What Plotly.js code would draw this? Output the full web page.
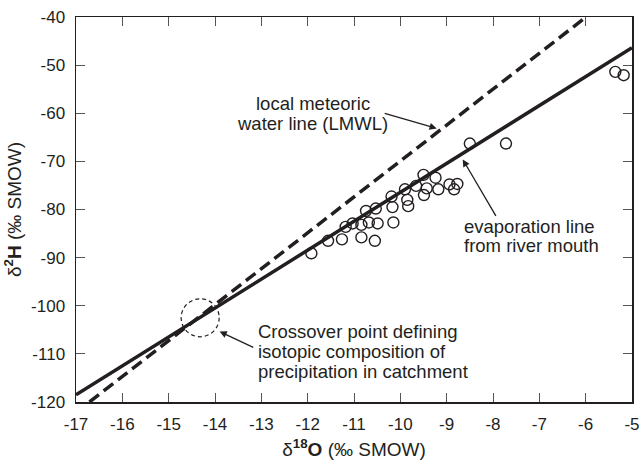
<!DOCTYPE html>
<html>
<head>
<meta charset="utf-8">
<script src="https://cdn.plot.ly/plotly-3.0.1.min.js"></script>
<style>html,body{margin:0;padding:0;background:#fff}#chart{width:640px;height:462px}</style>
</head>
<body>
<div id="chart"></div>
<script>
// Sample isotopic data (per mil SMOW)
const d18O = [-11.92,-11.56,-11.26,-11.18,-11.03,-10.84,-10.84,-10.68,-10.55,-10.49,-10.74,-10.53,-10.19,-10.17,-10.15,-9.90,-9.85,-9.83,-9.66,-9.50,-9.49,-9.43,-9.24,-9.18,-8.94,-8.77,-8.84,-8.50,-7.72,-5.36,-5.18];
const d2H  = [-89.1,-86.5,-86.2,-83.6,-82.9,-83.2,-85.8,-82.7,-86.5,-82.9,-80.3,-79.8,-77.3,-79.5,-82.7,-75.8,-78.0,-79.3,-75.1,-72.8,-77.0,-75.6,-73.4,-75.8,-74.8,-74.7,-75.8,-66.3,-66.3,-51.4,-52.1];

// Local meteoric water line (dashed) endpoints
const lmwlX = [-16.71, -5.99];
const lmwlY = [-120, -40];
// Evaporation line (solid) endpoints
const evapX = [-17, -5];
const evapY = [-118.5, -46.4];

// Crossover point
const crossX = -14.32, crossY = -102.5;

const xTicks = [-17,-16,-15,-14,-13,-12,-11,-10,-9,-8,-7,-6,-5];
const yTicks = [-120,-110,-100,-90,-80,-70,-60,-50,-40];

const lmwlLabel = ["local meteoric", "water line (LMWL)"];
const evapLabel = ["evaporation line", "from river mouth"];
const crossLabel = ["Crossover point defining", "isotopic composition of", "precipitation in catchment"];

const ink = '#231f20';
const FONT = '"Liberation Sans", Arial, Helvetica, sans-serif';

const traces = [
  {x: lmwlX, y: lmwlY, mode: 'lines', line: {color: ink, width: 3.5, dash: '12px,6px'}, hoverinfo: 'skip', showlegend: false},
  {x: evapX, y: evapY, mode: 'lines', line: {color: ink, width: 3.5}, hoverinfo: 'skip', showlegend: false},
  {x: d18O, y: d2H, mode: 'markers', marker: {symbol: 'circle-open', size: 11, color: ink, line: {width: 1.4, color: ink}}, showlegend: false}
];

const tf = {family: FONT, size: 18.5, color: ink};
const ann = [];
// LMWL label
[-57.97, -62.2].forEach((yy, i) => ann.push({x: -11.89, y: yy, xref: 'x', yref: 'y', text: lmwlLabel[i], showarrow: false, xanchor: 'center', yanchor: 'middle', font: tf}));
// evap label
[-83.57, -87.57].forEach((yy, i) => ann.push({x: -8.675, y: yy, xref: 'x', yref: 'y', text: evapLabel[i], showarrow: false, xanchor: 'left', yanchor: 'middle', font: tf}));
// crossover label
[-105.35, -109.5, -113.65].forEach((yy, i) => ann.push({x: -13.105, y: yy, xref: 'x', yref: 'y', text: crossLabel[i], showarrow: false, xanchor: 'left', yanchor: 'middle', font: tf}));
// arrows
const arrow = (hx, hy, tx, ty) => ({x: hx, y: hy, ax: tx, ay: ty, xref: 'x', yref: 'y', axref: 'x', ayref: 'y', text: '', showarrow: true, arrowhead: 2, arrowsize: 1.1, arrowwidth: 1.3, arrowcolor: ink, standoff: 0, startstandoff: 0});
ann.push(arrow(-9.215, -63.15, -10.37, -59.92));
ann.push(arrow(-8.653, -69.59, -7.919, -81.62));
ann.push(arrow(-13.90, -105.35, -13.142, -108.8));

const layout = {
  width: 640, height: 462,
  margin: {l: 76, r: 8, t: 17, b: 60},
  paper_bgcolor: '#fff', plot_bgcolor: '#fff',
  font: {family: FONT, color: ink},
  xaxis: {
    range: [-17, -5], tickvals: xTicks, ticktext: xTicks.map(String),
    ticks: 'inside', ticklen: 9, tickwidth: 1, tickcolor: '#555',
    showline: true, linecolor: ink, linewidth: 1.5, mirror: 'ticks',
    showgrid: false, zeroline: false,
    tickfont: {family: FONT, size: 17, color: ink}, ticklabelstandoff: 6,
    title: {text: 'δ<sup><b>18</b></sup><b>O</b> (‰ SMOW)', font: {family: FONT, size: 19, color: ink}, standoff: 10}
  },
  yaxis: {
    range: [-120, -40], tickvals: yTicks, ticktext: yTicks.map(String),
    ticks: 'inside', ticklen: 9, tickwidth: 1, tickcolor: '#555',
    showline: true, linecolor: ink, linewidth: 1.5, mirror: 'ticks',
    showgrid: false, zeroline: false,
    tickfont: {family: FONT, size: 17, color: ink}, ticklabelstandoff: 6,
    title: {text: 'δ<sup><b>2</b></sup><b>H</b> (‰ SMOW)', font: {family: FONT, size: 19, color: ink}, standoff: 4}
  },
  shapes: [{
    type: 'circle', xref: 'x', yref: 'y', xsizemode: 'pixel', ysizemode: 'pixel',
    xanchor: crossX, yanchor: crossY, x0: -19, x1: 19, y0: -19, y1: 19,
    line: {color: ink, width: 1.2, dash: '4px,3px'}
  }],
  annotations: ann
};

Plotly.newPlot('chart', traces, layout, {staticPlot: true, displayModeBar: false});
</script>
</body>
</html>
